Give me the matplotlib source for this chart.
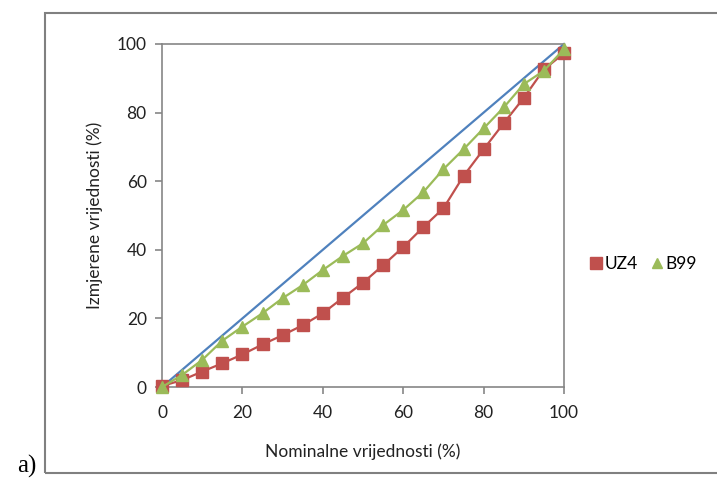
import matplotlib.pyplot as plt
from matplotlib.lines import Line2D
from matplotlib.patches import Rectangle

nominal = [0, 5, 10, 15, 20, 25, 30, 35, 40, 45, 50,
           55, 60, 65, 70, 75, 80, 85, 90, 95, 100]
ideal = [0, 5, 10, 15, 20, 25, 30, 35, 40, 45, 50,
         55, 60, 65, 70, 75, 80, 85, 90, 95, 100]
uz4 = [0.3, 2.0, 4.5, 6.9, 9.5, 12.4, 15.1, 18.0, 21.5, 26.0, 30.4,
       35.5, 40.8, 46.6, 52.1, 61.5, 69.3, 76.9, 84.3, 92.6, 97.3]
b99 = [0.0, 3.5, 7.9, 13.5, 17.6, 21.5, 25.9, 29.7, 34.1, 38.2, 41.9,
       47.2, 51.6, 56.8, 63.5, 69.3, 75.4, 81.5, 88.3, 92.2, 98.5]
ticks = [0, 20, 40, 60, 80, 100]

blue = "#4F81BD"
red = "#C0504D"
green = "#9BBB59"
gray = "#868686"
font = "Lato"
fs = 12.5

fig = plt.figure(figsize=(7.17, 4.79), dpi=100)

# outer frame around the chart
fig.patches.append(Rectangle((45 / 717, 1 - 473 / 479), 1.0, (473 - 13) / 479,
                             transform=fig.transFigure, fill=False,
                             edgecolor="#808080", linewidth=1.5))
fig.text(17 / 717, 1 - 466 / 479, "a)", fontsize=18, family="Liberation Serif",
         va="center", ha="left")

ax = fig.add_axes([162 / 717, 1 - 387 / 479, 402 / 717, 343 / 479])
ax.plot(nominal, ideal, color=blue, lw=1.6, clip_on=False)
ax.plot(nominal, uz4, color=red, lw=1.6, marker="s", ms=8.5,
        mec=red, mfc=red, clip_on=False, zorder=3)
ax.plot(nominal, b99, color=green, lw=1.6, marker="^", ms=8,
        mec=green, mfc=green, clip_on=False, zorder=4)

ax.set_xlim(0, 100)
ax.set_ylim(0, 100)
ax.set_xticks(ticks)
ax.set_yticks(ticks)
for s in ax.spines.values():
    s.set_color(gray)
    s.set_linewidth(1.2)
ax.tick_params(colors=gray, length=5, width=1.2, labelcolor="#222222",
               labelsize=fs, pad=6)
ax.tick_params(axis="x", pad=8)
for lab in ax.get_xticklabels() + ax.get_yticklabels():
    lab.set_family(font)
ax.set_xlabel("Nominalne vrijednosti (%)", family=font, fontsize=fs,
              labelpad=16, color="#222222")
ax.set_ylabel("Izmjerene vrijednosti (%)", family=font, fontsize=fs,
              labelpad=10, color="#222222")

handles = [Line2D([], [], ls="none", marker="s", ms=8, color=red),
           Line2D([], [], ls="none", marker="^", ms=7.5, color=green)]
fig.legend(handles, ["UZ4", "B99"], ncol=2, frameon=False,
           loc="center left", bbox_to_anchor=(570 / 717, 1 - 264 / 479),
           prop={"family": font, "size": fs}, handletextpad=-0.1,
           columnspacing=0.5, handlelength=1.2)

fig.savefig("out.png", dpi=100)
